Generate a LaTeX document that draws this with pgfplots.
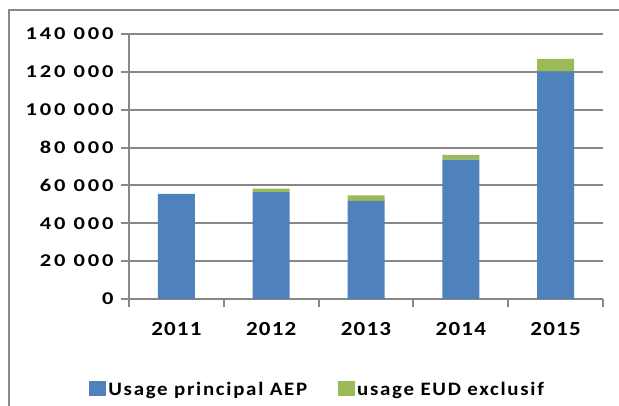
\documentclass[border=0pt]{standalone}
\usepackage{pgfplots}
\pgfplotsset{compat=1.18}
\usepackage{fontspec}
\setmainfont{Carlito}
\newfontfamily\xfont{Carlito}[FakeStretch=1.15, LetterSpace=6]
\newfontfamily\lfont{Carlito}[FakeStretch=1.1, LetterSpace=9]
\newfontfamily\yfont{Carlito}[FakeStretch=1.25, LetterSpace=16]
\definecolor{blueA}{HTML}{4F81BD}
\definecolor{greenA}{HTML}{9BBB59}
\definecolor{gridG}{HTML}{888888}
\begin{document}
\begin{tikzpicture}[x=1pt,y=1pt]
\path[use as bounding box] (0,0) rectangle (619,405);
\draw[gridG, line width=2pt] (9,-5) -- (9,395) -- (630,395);
\begin{axis}[
  at={(129pt,106pt)}, anchor=south west, scale only axis,
  width=474pt, height=265pt,
  ybar stacked, bar width=37pt,
  xmin=-0.5, xmax=4.5, ymin=0, ymax=140000,
  scaled y ticks=false,
  xtick={0,1,2,3,4},
  xticklabels={2011,2012,2013,2014,2015},
  minor xtick={-0.5,0.5,1.5,2.5,3.5,4.5},
  ytick={0,20000,40000,60000,80000,100000,120000,140000},
  yticklabels={0,20 000,40 000,60 000,80 000,100 000,120 000,140 000},
  every major x tick/.append style={draw=none},
  tick align=outside, major tick length=8pt, minor tick length=8pt,
  tick style={gridG, line width=2pt},
  axis x line*=bottom, axis y line*=left,
  axis line style={gridG, line width=2pt, -},
  ymajorgrids, grid style={gridG, line width=2pt},
  yticklabel style={font=\yfont\bfseries\fontsize{18}{20}\selectfont, text=black, xshift=-4pt},
  xticklabel style={font=\xfont\bfseries\fontsize{20}{22}\selectfont, text=black, yshift=-12pt},
  legend columns=2,
  legend style={at={(-0.084,-0.34)}, anchor=west, draw=none, fill=none,
    inner sep=0pt, font=\lfont\bfseries\fontsize{19}{21}\selectfont,
    /tikz/every even column/.append style={column sep=29pt}},
  legend image code/.code={\fill[#1] (0pt,-7pt) rectangle (17pt,8pt);},
]
\addplot[fill=blueA, draw=none] coordinates {(0,55600) (1,56400) (2,51900) (3,73600) (4,120300)};
\addplot[fill=greenA, draw=none] coordinates {(0,0) (1,1900) (2,2900) (3,2600) (4,6500)};
\legend{Usage principal AEP, usage EUD exclusif}
\end{axis}
\end{tikzpicture}
\end{document}
